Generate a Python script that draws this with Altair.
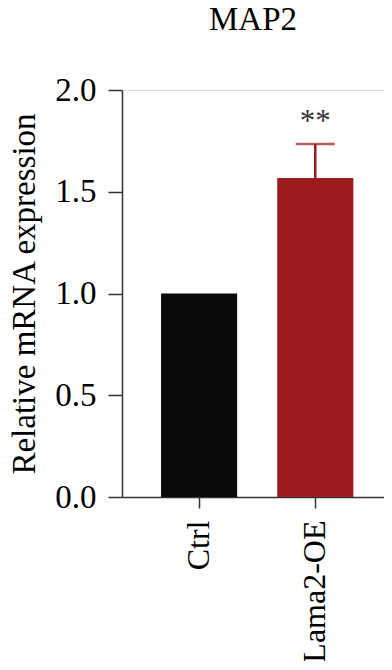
import altair as alt
import pandas as pd

groups = ["Ctrl", "Lama2-OE"]
means = [1.0, 1.568]
errs = [0.0, 0.167]
stars = ["", "**"]
colors = ["#0a0a0a", "#9b1b1f"]

df = pd.DataFrame({
    "group": groups,
    "mean": means,
    "upper": [m + e for m, e in zip(means, errs)],
    "star": stars,
    "star_y": [m + e + 0.11 for m, e in zip(means, errs)],
})

FONT = "Liberation Serif"
FS = 33

xscale = alt.Scale(domain=groups, paddingInner=0.345, paddingOuter=0.3, align=0.56)
xenc = alt.X("group:N", scale=xscale, sort=groups,
             axis=alt.Axis(title=None, labelAngle=-90, labelAlign="right", labelBaseline="middle",
                           labelFont=FONT, labelFontSize=32, labelColor="#000",
                           tickSize=11, tickColor="#333", tickWidth=1.5,
                           domainColor="#333", domainWidth=1.5, labelPadding=12))
yscale = alt.Scale(domain=[0, 2.0], nice=False)

bars = alt.Chart(df).mark_bar().encode(
    x=xenc,
    y=alt.Y("mean:Q", scale=yscale,
            axis=alt.Axis(title="Relative mRNA expression", values=[0, 0.5, 1.0, 1.5, 2.0], format=".1f",
                          titleFont=FONT, titleFontSize=FS, titleFontWeight="normal", titleColor="#000",
                          labelFont=FONT, labelFontSize=FS, labelColor="#000",
                          tickSize=14, tickColor="#333", tickWidth=1.5,
                          domainColor="#333", domainWidth=1.5, labelPadding=12, titlePadding=13,
                          grid=False)),
    color=alt.Color("group:N", scale=alt.Scale(domain=groups, range=colors), legend=None),
)

err = alt.Chart(df[df["group"] == "Lama2-OE"]).mark_rule(color="#9b1b1f", strokeWidth=2.5).encode(
    x=alt.X("group:N", scale=xscale, sort=groups),
    y=alt.Y("mean:Q", scale=yscale),
    y2="upper:Q",
)
cap = alt.Chart(df[df["group"] == "Lama2-OE"]).mark_tick(color="#9b1b1f", thickness=2.5, size=39).encode(
    x=alt.X("group:N", scale=xscale, sort=groups),
    y=alt.Y("upper:Q", scale=yscale),
)
txt = alt.Chart(df).mark_text(font=FONT, fontSize=31, color="#333", baseline="middle").encode(
    x=alt.X("group:N", scale=xscale, sort=groups),
    y=alt.Y("star_y:Q", scale=yscale),
    text="star:N",
)

chart = alt.layer(err, bars, cap, txt).properties(
    width=262, height=407,
    title=alt.TitleParams("MAP2", font=FONT, fontSize=FS, fontWeight="normal", color="#000",
                          anchor="middle", offset=37),
    autosize=alt.AutoSizeParams(type="none"),
    padding={"left": 114, "top": 82, "right": 0, "bottom": 164},
).configure_view(stroke=None).configure(background="white")

chart.save("out.html", embed_options={"renderer": "svg", "actions": False})
